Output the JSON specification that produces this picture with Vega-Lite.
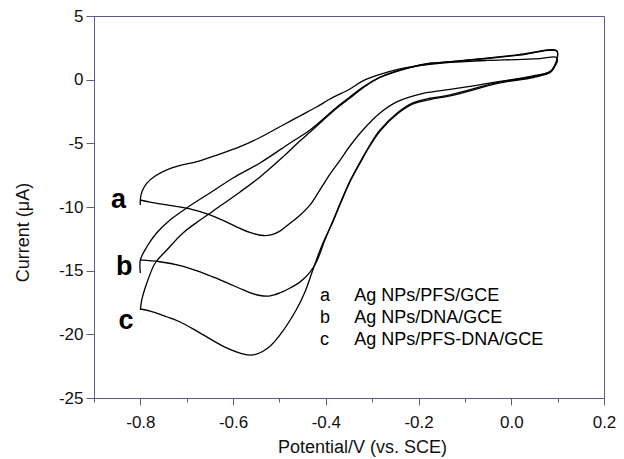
{
  "$schema": "https://vega.github.io/schema/vega-lite/v6.json",
  "width": 510,
  "height": 382,
  "autosize": "none",
  "padding": {"left": 94, "top": 16, "right": 20, "bottom": 61},
  "background": "white",
  "config": {
    "view": {"stroke": "#5b5b8c", "strokeWidth": 1},
    "font": "Liberation Sans",
    "locale": {"number": {"decimal": ".", "thousands": ",", "grouping": [3], "currency": ["$", ""], "minus": "-"}},
    "axis": {
      "grid": false,
      "domainColor": "#5b5b8c",
      "tickColor": "#5b5b8c",
      "labelFont": "Liberation Sans",
      "labelFontSize": 17,
      "labelColor": "#111111",
      "titleFont": "Liberation Sans",
      "titleFontSize": 18,
      "titleFontWeight": "normal",
      "titleColor": "#111111",
      "labelFlush": false,
      "labelOverlap": false
    }
  },
  "datasets": {
    "cv": [
      {"c":"a","o":1,"E":-0.800,"I":-9.84},{"c":"a","o":2,"E":-0.800,"I":-9.37},{"c":"a","o":3,"E":-0.796,"I":-8.74},{"c":"a","o":4,"E":-0.786,"I":-8.12},{"c":"a","o":5,"E":-0.768,"I":-7.57},{"c":"a","o":6,"E":-0.743,"I":-7.09},{"c":"a","o":7,"E":-0.714,"I":-6.74},{"c":"a","o":8,"E":-0.678,"I":-6.44},{"c":"a","o":9,"E":-0.635,"I":-5.92},{"c":"a","o":10,"E":-0.585,"I":-5.26},{"c":"a","o":11,"E":-0.542,"I":-4.54},{"c":"a","o":12,"E":-0.492,"I":-3.56},{"c":"a","o":13,"E":-0.456,"I":-2.85},{"c":"a","o":14,"E":-0.420,"I":-2.15},{"c":"a","o":15,"E":-0.391,"I":-1.52},{"c":"a","o":16,"E":-0.348,"I":-0.73},{"c":"a","o":17,"E":-0.320,"I":-0.10},{"c":"a","o":18,"E":-0.283,"I":0.41},{"c":"a","o":19,"E":-0.240,"I":0.84},{"c":"a","o":20,"E":-0.212,"I":1.03},{"c":"a","o":21,"E":-0.132,"I":1.35},{"c":"a","o":22,"E":-0.053,"I":1.51},{"c":"a","o":23,"E":0.012,"I":1.58},{"c":"a","o":24,"E":0.062,"I":1.66},{"c":"a","o":25,"E":0.098,"I":1.74},{"c":"a","o":26,"E":0.099,"I":1.39},{"c":"a","o":27,"E":0.094,"I":1.07},{"c":"a","o":28,"E":0.084,"I":0.63},{"c":"a","o":29,"E":0.047,"I":0.29},{"c":"a","o":30,"E":-0.024,"I":-0.14},{"c":"a","o":31,"E":-0.078,"I":-0.46},{"c":"a","o":32,"E":-0.132,"I":-0.76},{"c":"a","o":33,"E":-0.190,"I":-1.07},{"c":"a","o":34,"E":-0.246,"I":-1.73},{"c":"a","o":35,"E":-0.283,"I":-2.62},{"c":"a","o":36,"E":-0.320,"I":-3.95},{"c":"a","o":37,"E":-0.348,"I":-5.21},{"c":"a","o":38,"E":-0.369,"I":-6.31},{"c":"a","o":39,"E":-0.391,"I":-7.41},{"c":"a","o":40,"E":-0.413,"I":-8.67},{"c":"a","o":41,"E":-0.434,"I":-9.84},{"c":"a","o":42,"E":-0.460,"I":-10.79},{"c":"a","o":43,"E":-0.482,"I":-11.41},{"c":"a","o":44,"E":-0.499,"I":-11.89},{"c":"a","o":45,"E":-0.516,"I":-12.16},{"c":"a","o":46,"E":-0.535,"I":-12.24},{"c":"a","o":47,"E":-0.564,"I":-12.00},{"c":"a","o":48,"E":-0.585,"I":-11.68},{"c":"a","o":49,"E":-0.607,"I":-11.30},{"c":"a","o":50,"E":-0.628,"I":-10.95},{"c":"a","o":51,"E":-0.650,"I":-10.62},{"c":"a","o":52,"E":-0.693,"I":-10.15},{"c":"a","o":53,"E":-0.743,"I":-9.84},{"c":"a","o":54,"E":-0.779,"I":-9.61},{"c":"a","o":55,"E":-0.800,"I":-9.45},
      {"c":"b","o":1,"E":-0.800,"I":-15.18},{"c":"b","o":2,"E":-0.800,"I":-14.16},{"c":"b","o":3,"E":-0.786,"I":-13.12},{"c":"b","o":4,"E":-0.765,"I":-12.04},{"c":"b","o":5,"E":-0.736,"I":-11.02},{"c":"b","o":6,"E":-0.697,"I":-10.00},{"c":"b","o":7,"E":-0.650,"I":-8.90},{"c":"b","o":8,"E":-0.600,"I":-7.72},{"c":"b","o":9,"E":-0.542,"I":-6.54},{"c":"b","o":10,"E":-0.477,"I":-4.97},{"c":"b","o":11,"E":-0.434,"I":-3.95},{"c":"b","o":12,"E":-0.376,"I":-2.15},{"c":"b","o":13,"E":-0.348,"I":-1.36},{"c":"b","o":14,"E":-0.320,"I":-0.58},{"c":"b","o":15,"E":-0.283,"I":0.21},{"c":"b","o":16,"E":-0.218,"I":0.99},{"c":"b","o":17,"E":-0.175,"I":1.29},{"c":"b","o":18,"E":-0.132,"I":1.41},{"c":"b","o":19,"E":0.012,"I":1.94},{"c":"b","o":20,"E":0.098,"I":2.27},{"c":"b","o":21,"E":0.099,"I":1.70},{"c":"b","o":22,"E":0.094,"I":1.15},{"c":"b","o":23,"E":0.084,"I":0.63},{"c":"b","o":24,"E":0.047,"I":0.23},{"c":"b","o":25,"E":-0.024,"I":-0.18},{"c":"b","o":26,"E":-0.132,"I":-1.20},{"c":"b","o":27,"E":-0.175,"I":-1.46},{"c":"b","o":28,"E":-0.212,"I":-1.83},{"c":"b","o":29,"E":-0.246,"I":-2.62},{"c":"b","o":30,"E":-0.283,"I":-3.95},{"c":"b","o":31,"E":-0.305,"I":-5.13},{"c":"b","o":32,"E":-0.326,"I":-6.47},{"c":"b","o":33,"E":-0.348,"I":-7.96},{"c":"b","o":34,"E":-0.367,"I":-9.53},{"c":"b","o":35,"E":-0.384,"I":-11.02},{"c":"b","o":36,"E":-0.402,"I":-12.59},{"c":"b","o":37,"E":-0.420,"I":-14.30},{"c":"b","o":38,"E":-0.434,"I":-15.11},{"c":"b","o":39,"E":-0.456,"I":-15.90},{"c":"b","o":40,"E":-0.477,"I":-16.36},{"c":"b","o":41,"E":-0.499,"I":-16.75},{"c":"b","o":42,"E":-0.520,"I":-16.98},{"c":"b","o":43,"E":-0.542,"I":-16.95},{"c":"b","o":44,"E":-0.564,"I":-16.72},{"c":"b","o":45,"E":-0.585,"I":-16.40},{"c":"b","o":46,"E":-0.607,"I":-16.05},{"c":"b","o":47,"E":-0.628,"I":-15.72},{"c":"b","o":48,"E":-0.650,"I":-15.40},{"c":"b","o":49,"E":-0.671,"I":-15.10},{"c":"b","o":50,"E":-0.714,"I":-14.60},{"c":"b","o":51,"E":-0.758,"I":-14.30},{"c":"b","o":52,"E":-0.800,"I":-14.16},
      {"c":"c","o":1,"E":-0.800,"I":-18.09},{"c":"c","o":2,"E":-0.797,"I":-17.30},{"c":"c","o":3,"E":-0.786,"I":-15.97},{"c":"c","o":4,"E":-0.768,"I":-14.40},{"c":"c","o":5,"E":-0.743,"I":-13.38},{"c":"c","o":6,"E":-0.708,"I":-12.04},{"c":"c","o":7,"E":-0.671,"I":-11.02},{"c":"c","o":8,"E":-0.643,"I":-10.31},{"c":"c","o":9,"E":-0.585,"I":-8.82},{"c":"c","o":10,"E":-0.542,"I":-7.64},{"c":"c","o":11,"E":-0.488,"I":-5.92},{"c":"c","o":12,"E":-0.456,"I":-4.82},{"c":"c","o":13,"E":-0.434,"I":-4.11},{"c":"c","o":14,"E":-0.376,"I":-2.23},{"c":"c","o":15,"E":-0.348,"I":-1.44},{"c":"c","o":16,"E":-0.320,"I":-0.65},{"c":"c","o":17,"E":-0.283,"I":0.17},{"c":"c","o":18,"E":-0.218,"I":0.95},{"c":"c","o":19,"E":-0.175,"I":1.27},{"c":"c","o":20,"E":-0.132,"I":1.39},{"c":"c","o":21,"E":0.012,"I":1.90},{"c":"c","o":22,"E":0.098,"I":2.25},{"c":"c","o":23,"E":0.099,"I":1.62},{"c":"c","o":24,"E":0.094,"I":1.07},{"c":"c","o":25,"E":0.084,"I":0.56},{"c":"c","o":26,"E":0.047,"I":0.17},{"c":"c","o":27,"E":-0.024,"I":-0.26},{"c":"c","o":28,"E":-0.132,"I":-1.28},{"c":"c","o":29,"E":-0.175,"I":-1.56},{"c":"c","o":30,"E":-0.212,"I":-1.91},{"c":"c","o":31,"E":-0.246,"I":-2.70},{"c":"c","o":32,"E":-0.283,"I":-4.03},{"c":"c","o":33,"E":-0.305,"I":-5.21},{"c":"c","o":34,"E":-0.326,"I":-6.55},{"c":"c","o":35,"E":-0.348,"I":-8.04},{"c":"c","o":36,"E":-0.367,"I":-9.61},{"c":"c","o":37,"E":-0.384,"I":-11.10},{"c":"c","o":38,"E":-0.408,"I":-12.98},{"c":"c","o":39,"E":-0.428,"I":-14.95},{"c":"c","o":40,"E":-0.445,"I":-16.68},{"c":"c","o":41,"E":-0.464,"I":-18.09},{"c":"c","o":42,"E":-0.499,"I":-20.05},{"c":"c","o":43,"E":-0.525,"I":-21.07},{"c":"c","o":44,"E":-0.557,"I":-21.62},{"c":"c","o":45,"E":-0.585,"I":-21.47},{"c":"c","o":46,"E":-0.614,"I":-21.07},{"c":"c","o":47,"E":-0.671,"I":-19.90},{"c":"c","o":48,"E":-0.714,"I":-19.03},{"c":"c","o":49,"E":-0.743,"I":-18.62},{"c":"c","o":50,"E":-0.779,"I":-18.17},{"c":"c","o":51,"E":-0.800,"I":-18.01}
    ],
    "tags": [
      {"k":"a","E":-0.847,"I":-10.1},
      {"k":"b","E":-0.835,"I":-15.34},
      {"k":"c","E":-0.831,"I":-19.61}
    ],
    "legend": [
      {"k":"a","t":"Ag NPs/PFS/GCE","E1":-0.4125,"E2":-0.3385,"I":-17.38},
      {"k":"b","t":"Ag NPs/DNA/GCE","E1":-0.4125,"E2":-0.3385,"I":-19.09},
      {"k":"c","t":"Ag NPs/PFS-DNA/GCE","E1":-0.4125,"E2":-0.3385,"I":-20.84}
    ]
  },
  "layer": [
    {
      "data": {"name": "cv"},
      "mark": {"type": "line", "color": "black", "strokeWidth": 1.3, "interpolate": "catmull-rom"},
      "encoding": {
        "x": {
          "field": "E", "type": "quantitative",
          "scale": {"domain": [-0.9, 0.2], "nice": false, "zero": false},
          "axis": {
            "orient": "bottom",
            "values": [-0.9, -0.8, -0.7, -0.6, -0.5, -0.4, -0.3, -0.2, -0.1, 0, 0.1, 0.2],
            "labelExpr": "abs(round(datum.value * 10)) % 2 === 0 ? format(datum.value, '.1f') : ''",
            "tickSize": {"condition": {"test": "abs(round(datum.value * 10)) % 2 === 0", "value": 7}, "value": 4},
            "labelPadding": 9,
            "title": "Potential/V (vs. SCE)",
            "titleX": 268,
            "titleY": 54,
            "titleBaseline": "alphabetic",
            "titleAlign": "center"
          }
        },
        "y": {
          "field": "I", "type": "quantitative",
          "scale": {"domain": [-25, 5], "nice": false, "zero": false},
          "axis": {
            "orient": "left",
            "values": [-25, -22.5, -20, -17.5, -15, -12.5, -10, -7.5, -5, -2.5, 0, 2.5, 5],
            "labelExpr": "datum.value % 5 === 0 ? format(datum.value, 'd') : ''",
            "tickSize": {"condition": {"test": "datum.value % 5 === 0", "value": 8}, "value": 5},
            "labelPadding": 3,
            "title": "Current (μA)",
            "titleX": -66,
            "titleY": 216,
            "titleAngle": 270,
            "titleBaseline": "alphabetic",
            "titleAlign": "center"
          }
        },
        "order": {"field": "o", "type": "quantitative"},
        "detail": {"field": "c", "type": "nominal"}
      }
    },
    {
      "data": {"name": "tags"},
      "mark": {"type": "text", "font": "Liberation Sans", "fontWeight": "bold", "fontSize": 27, "align": "center", "baseline": "alphabetic", "color": "black"},
      "encoding": {
        "x": {"field": "E", "type": "quantitative"},
        "y": {"field": "I", "type": "quantitative"},
        "text": {"field": "k", "type": "nominal"}
      }
    },
    {
      "data": {"name": "legend"},
      "mark": {"type": "text", "font": "Liberation Sans", "fontSize": 18, "align": "left", "baseline": "alphabetic", "color": "black"},
      "encoding": {
        "x": {"field": "E1", "type": "quantitative"},
        "y": {"field": "I", "type": "quantitative"},
        "text": {"field": "k", "type": "nominal"}
      }
    },
    {
      "data": {"name": "legend"},
      "mark": {"type": "text", "font": "Liberation Sans", "fontSize": 18, "align": "left", "baseline": "alphabetic", "color": "black"},
      "encoding": {
        "x": {"field": "E2", "type": "quantitative"},
        "y": {"field": "I", "type": "quantitative"},
        "text": {"field": "t", "type": "nominal"}
      }
    }
  ]
}
